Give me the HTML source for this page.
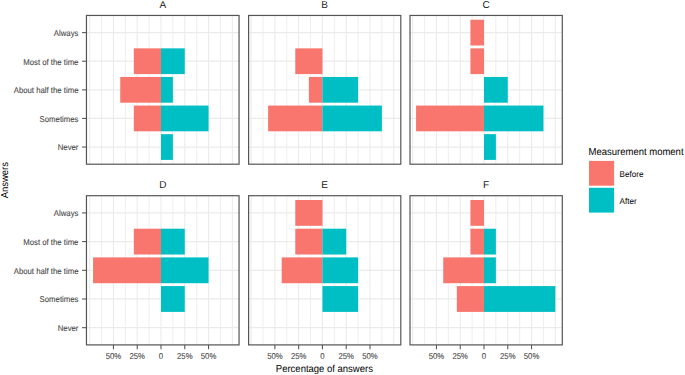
<!DOCTYPE html>
<html><head><meta charset="utf-8"><style>
html,body{margin:0;padding:0;background:#fff;width:685px;height:375px;overflow:hidden}
svg{display:block}
text{font-family:"Liberation Sans",sans-serif;text-rendering:geometricPrecision}
.ax{font-size:8.45px;fill:#4D4D4D;stroke:#4D4D4D;stroke-width:0.12px}
.strip{font-size:10px;fill:#1A1A1A}
.title{font-size:10.1px;fill:#000}
.leg{font-size:8.55px;fill:#000}
</style></head><body>
<svg width="685" height="375" viewBox="0 0 685 375">
<rect width="685" height="375" fill="#fff"/>
<line x1="89.68" y1="15.45" x2="89.68" y2="164.20" stroke="#EBEBEB" stroke-width="1.1"/>
<line x1="101.56" y1="15.45" x2="101.56" y2="164.20" stroke="#EBEBEB" stroke-width="0.85"/>
<line x1="113.45" y1="15.45" x2="113.45" y2="164.20" stroke="#EBEBEB" stroke-width="1.1"/>
<line x1="125.34" y1="15.45" x2="125.34" y2="164.20" stroke="#EBEBEB" stroke-width="0.85"/>
<line x1="137.22" y1="15.45" x2="137.22" y2="164.20" stroke="#EBEBEB" stroke-width="1.1"/>
<line x1="149.11" y1="15.45" x2="149.11" y2="164.20" stroke="#EBEBEB" stroke-width="0.85"/>
<line x1="161.00" y1="15.45" x2="161.00" y2="164.20" stroke="#EBEBEB" stroke-width="1.1"/>
<line x1="172.89" y1="15.45" x2="172.89" y2="164.20" stroke="#EBEBEB" stroke-width="0.85"/>
<line x1="184.78" y1="15.45" x2="184.78" y2="164.20" stroke="#EBEBEB" stroke-width="1.1"/>
<line x1="196.66" y1="15.45" x2="196.66" y2="164.20" stroke="#EBEBEB" stroke-width="0.85"/>
<line x1="208.55" y1="15.45" x2="208.55" y2="164.20" stroke="#EBEBEB" stroke-width="1.1"/>
<line x1="220.44" y1="15.45" x2="220.44" y2="164.20" stroke="#EBEBEB" stroke-width="0.85"/>
<line x1="232.32" y1="15.45" x2="232.32" y2="164.20" stroke="#EBEBEB" stroke-width="1.1"/>
<line x1="86.45" y1="32.61" x2="239.05" y2="32.61" stroke="#EBEBEB" stroke-width="1.25"/>
<line x1="86.45" y1="61.22" x2="239.05" y2="61.22" stroke="#EBEBEB" stroke-width="1.25"/>
<line x1="86.45" y1="89.83" x2="239.05" y2="89.83" stroke="#EBEBEB" stroke-width="1.25"/>
<line x1="86.45" y1="118.43" x2="239.05" y2="118.43" stroke="#EBEBEB" stroke-width="1.25"/>
<line x1="86.45" y1="147.04" x2="239.05" y2="147.04" stroke="#EBEBEB" stroke-width="1.25"/>
<rect x="133.83" y="48.35" width="27.17" height="25.75" fill="#F8766D"/>
<rect x="161.00" y="48.35" width="23.77" height="25.75" fill="#00BFC4"/>
<rect x="120.24" y="76.95" width="40.76" height="25.75" fill="#F8766D"/>
<rect x="161.00" y="76.95" width="11.89" height="25.75" fill="#00BFC4"/>
<rect x="133.83" y="105.56" width="27.17" height="25.75" fill="#F8766D"/>
<rect x="161.00" y="105.56" width="47.55" height="25.75" fill="#00BFC4"/>
<rect x="161.00" y="134.16" width="11.89" height="25.75" fill="#00BFC4"/>
<rect x="86.45" y="15.45" width="152.60" height="148.75" fill="none" stroke="#555555" stroke-width="1.2"/>
<text transform="translate(162.75,8.00) scale(1.0,1)" class="strip" text-anchor="middle">A</text>
<line x1="82.05" y1="32.61" x2="86.45" y2="32.61" stroke="#555555" stroke-width="1.07"/>
<text transform="translate(78.45,36.01) scale(0.92,1)" class="ax" text-anchor="end">Always</text>
<line x1="82.05" y1="61.22" x2="86.45" y2="61.22" stroke="#555555" stroke-width="1.07"/>
<text transform="translate(78.45,64.62) scale(0.92,1)" class="ax" text-anchor="end">Most of the time</text>
<line x1="82.05" y1="89.83" x2="86.45" y2="89.83" stroke="#555555" stroke-width="1.07"/>
<text transform="translate(78.45,93.23) scale(0.92,1)" class="ax" text-anchor="end">About half the time</text>
<line x1="82.05" y1="118.43" x2="86.45" y2="118.43" stroke="#555555" stroke-width="1.07"/>
<text transform="translate(78.45,121.83) scale(0.92,1)" class="ax" text-anchor="end">Sometimes</text>
<line x1="82.05" y1="147.04" x2="86.45" y2="147.04" stroke="#555555" stroke-width="1.07"/>
<text transform="translate(78.45,150.44) scale(0.92,1)" class="ax" text-anchor="end">Never</text>
<line x1="251.12" y1="15.45" x2="251.12" y2="164.20" stroke="#EBEBEB" stroke-width="1.1"/>
<line x1="263.01" y1="15.45" x2="263.01" y2="164.20" stroke="#EBEBEB" stroke-width="0.85"/>
<line x1="274.90" y1="15.45" x2="274.90" y2="164.20" stroke="#EBEBEB" stroke-width="1.1"/>
<line x1="286.79" y1="15.45" x2="286.79" y2="164.20" stroke="#EBEBEB" stroke-width="0.85"/>
<line x1="298.68" y1="15.45" x2="298.68" y2="164.20" stroke="#EBEBEB" stroke-width="1.1"/>
<line x1="310.56" y1="15.45" x2="310.56" y2="164.20" stroke="#EBEBEB" stroke-width="0.85"/>
<line x1="322.45" y1="15.45" x2="322.45" y2="164.20" stroke="#EBEBEB" stroke-width="1.1"/>
<line x1="334.34" y1="15.45" x2="334.34" y2="164.20" stroke="#EBEBEB" stroke-width="0.85"/>
<line x1="346.22" y1="15.45" x2="346.22" y2="164.20" stroke="#EBEBEB" stroke-width="1.1"/>
<line x1="358.11" y1="15.45" x2="358.11" y2="164.20" stroke="#EBEBEB" stroke-width="0.85"/>
<line x1="370.00" y1="15.45" x2="370.00" y2="164.20" stroke="#EBEBEB" stroke-width="1.1"/>
<line x1="381.89" y1="15.45" x2="381.89" y2="164.20" stroke="#EBEBEB" stroke-width="0.85"/>
<line x1="393.77" y1="15.45" x2="393.77" y2="164.20" stroke="#EBEBEB" stroke-width="1.1"/>
<line x1="248.60" y1="32.61" x2="400.80" y2="32.61" stroke="#EBEBEB" stroke-width="1.25"/>
<line x1="248.60" y1="61.22" x2="400.80" y2="61.22" stroke="#EBEBEB" stroke-width="1.25"/>
<line x1="248.60" y1="89.83" x2="400.80" y2="89.83" stroke="#EBEBEB" stroke-width="1.25"/>
<line x1="248.60" y1="118.43" x2="400.80" y2="118.43" stroke="#EBEBEB" stroke-width="1.25"/>
<line x1="248.60" y1="147.04" x2="400.80" y2="147.04" stroke="#EBEBEB" stroke-width="1.25"/>
<rect x="295.28" y="48.35" width="27.17" height="25.75" fill="#F8766D"/>
<rect x="308.86" y="76.95" width="13.59" height="25.75" fill="#F8766D"/>
<rect x="322.45" y="76.95" width="35.66" height="25.75" fill="#00BFC4"/>
<rect x="268.11" y="105.56" width="54.34" height="25.75" fill="#F8766D"/>
<rect x="322.45" y="105.56" width="59.44" height="25.75" fill="#00BFC4"/>
<rect x="248.60" y="15.45" width="152.20" height="148.75" fill="none" stroke="#555555" stroke-width="1.2"/>
<text transform="translate(324.70,8.00) scale(1.0,1)" class="strip" text-anchor="middle">B</text>
<line x1="412.68" y1="15.45" x2="412.68" y2="164.20" stroke="#EBEBEB" stroke-width="1.1"/>
<line x1="424.56" y1="15.45" x2="424.56" y2="164.20" stroke="#EBEBEB" stroke-width="0.85"/>
<line x1="436.45" y1="15.45" x2="436.45" y2="164.20" stroke="#EBEBEB" stroke-width="1.1"/>
<line x1="448.34" y1="15.45" x2="448.34" y2="164.20" stroke="#EBEBEB" stroke-width="0.85"/>
<line x1="460.23" y1="15.45" x2="460.23" y2="164.20" stroke="#EBEBEB" stroke-width="1.1"/>
<line x1="472.11" y1="15.45" x2="472.11" y2="164.20" stroke="#EBEBEB" stroke-width="0.85"/>
<line x1="484.00" y1="15.45" x2="484.00" y2="164.20" stroke="#EBEBEB" stroke-width="1.1"/>
<line x1="495.89" y1="15.45" x2="495.89" y2="164.20" stroke="#EBEBEB" stroke-width="0.85"/>
<line x1="507.77" y1="15.45" x2="507.77" y2="164.20" stroke="#EBEBEB" stroke-width="1.1"/>
<line x1="519.66" y1="15.45" x2="519.66" y2="164.20" stroke="#EBEBEB" stroke-width="0.85"/>
<line x1="531.55" y1="15.45" x2="531.55" y2="164.20" stroke="#EBEBEB" stroke-width="1.1"/>
<line x1="543.44" y1="15.45" x2="543.44" y2="164.20" stroke="#EBEBEB" stroke-width="0.85"/>
<line x1="555.33" y1="15.45" x2="555.33" y2="164.20" stroke="#EBEBEB" stroke-width="1.1"/>
<line x1="410.00" y1="32.61" x2="562.30" y2="32.61" stroke="#EBEBEB" stroke-width="1.25"/>
<line x1="410.00" y1="61.22" x2="562.30" y2="61.22" stroke="#EBEBEB" stroke-width="1.25"/>
<line x1="410.00" y1="89.83" x2="562.30" y2="89.83" stroke="#EBEBEB" stroke-width="1.25"/>
<line x1="410.00" y1="118.43" x2="562.30" y2="118.43" stroke="#EBEBEB" stroke-width="1.25"/>
<line x1="410.00" y1="147.04" x2="562.30" y2="147.04" stroke="#EBEBEB" stroke-width="1.25"/>
<rect x="470.41" y="19.74" width="13.59" height="25.75" fill="#F8766D"/>
<rect x="470.41" y="48.35" width="13.59" height="25.75" fill="#F8766D"/>
<rect x="484.00" y="76.95" width="23.77" height="25.75" fill="#00BFC4"/>
<rect x="416.07" y="105.56" width="67.93" height="25.75" fill="#F8766D"/>
<rect x="484.00" y="105.56" width="59.44" height="25.75" fill="#00BFC4"/>
<rect x="484.00" y="134.16" width="11.89" height="25.75" fill="#00BFC4"/>
<rect x="410.00" y="15.45" width="152.30" height="148.75" fill="none" stroke="#555555" stroke-width="1.2"/>
<text transform="translate(486.15,8.00) scale(1.0,1)" class="strip" text-anchor="middle">C</text>
<line x1="89.68" y1="195.70" x2="89.68" y2="344.90" stroke="#EBEBEB" stroke-width="1.1"/>
<line x1="101.56" y1="195.70" x2="101.56" y2="344.90" stroke="#EBEBEB" stroke-width="0.85"/>
<line x1="113.45" y1="195.70" x2="113.45" y2="344.90" stroke="#EBEBEB" stroke-width="1.1"/>
<line x1="125.34" y1="195.70" x2="125.34" y2="344.90" stroke="#EBEBEB" stroke-width="0.85"/>
<line x1="137.22" y1="195.70" x2="137.22" y2="344.90" stroke="#EBEBEB" stroke-width="1.1"/>
<line x1="149.11" y1="195.70" x2="149.11" y2="344.90" stroke="#EBEBEB" stroke-width="0.85"/>
<line x1="161.00" y1="195.70" x2="161.00" y2="344.90" stroke="#EBEBEB" stroke-width="1.1"/>
<line x1="172.89" y1="195.70" x2="172.89" y2="344.90" stroke="#EBEBEB" stroke-width="0.85"/>
<line x1="184.78" y1="195.70" x2="184.78" y2="344.90" stroke="#EBEBEB" stroke-width="1.1"/>
<line x1="196.66" y1="195.70" x2="196.66" y2="344.90" stroke="#EBEBEB" stroke-width="0.85"/>
<line x1="208.55" y1="195.70" x2="208.55" y2="344.90" stroke="#EBEBEB" stroke-width="1.1"/>
<line x1="220.44" y1="195.70" x2="220.44" y2="344.90" stroke="#EBEBEB" stroke-width="0.85"/>
<line x1="232.32" y1="195.70" x2="232.32" y2="344.90" stroke="#EBEBEB" stroke-width="1.1"/>
<line x1="86.45" y1="212.92" x2="239.05" y2="212.92" stroke="#EBEBEB" stroke-width="1.25"/>
<line x1="86.45" y1="241.61" x2="239.05" y2="241.61" stroke="#EBEBEB" stroke-width="1.25"/>
<line x1="86.45" y1="270.30" x2="239.05" y2="270.30" stroke="#EBEBEB" stroke-width="1.25"/>
<line x1="86.45" y1="298.99" x2="239.05" y2="298.99" stroke="#EBEBEB" stroke-width="1.25"/>
<line x1="86.45" y1="327.68" x2="239.05" y2="327.68" stroke="#EBEBEB" stroke-width="1.25"/>
<rect x="133.83" y="228.70" width="27.17" height="25.82" fill="#F8766D"/>
<rect x="161.00" y="228.70" width="23.77" height="25.82" fill="#00BFC4"/>
<rect x="93.07" y="257.39" width="67.93" height="25.82" fill="#F8766D"/>
<rect x="161.00" y="257.39" width="47.55" height="25.82" fill="#00BFC4"/>
<rect x="161.00" y="286.08" width="23.77" height="25.82" fill="#00BFC4"/>
<rect x="86.45" y="195.70" width="152.60" height="149.20" fill="none" stroke="#555555" stroke-width="1.2"/>
<text transform="translate(162.75,188.20) scale(1.0,1)" class="strip" text-anchor="middle">D</text>
<line x1="82.05" y1="212.92" x2="86.45" y2="212.92" stroke="#555555" stroke-width="1.07"/>
<text transform="translate(78.45,216.32) scale(0.92,1)" class="ax" text-anchor="end">Always</text>
<line x1="82.05" y1="241.61" x2="86.45" y2="241.61" stroke="#555555" stroke-width="1.07"/>
<text transform="translate(78.45,245.01) scale(0.92,1)" class="ax" text-anchor="end">Most of the time</text>
<line x1="82.05" y1="270.30" x2="86.45" y2="270.30" stroke="#555555" stroke-width="1.07"/>
<text transform="translate(78.45,273.70) scale(0.92,1)" class="ax" text-anchor="end">About half the time</text>
<line x1="82.05" y1="298.99" x2="86.45" y2="298.99" stroke="#555555" stroke-width="1.07"/>
<text transform="translate(78.45,302.39) scale(0.92,1)" class="ax" text-anchor="end">Sometimes</text>
<line x1="82.05" y1="327.68" x2="86.45" y2="327.68" stroke="#555555" stroke-width="1.07"/>
<text transform="translate(78.45,331.08) scale(0.92,1)" class="ax" text-anchor="end">Never</text>
<line x1="113.45" y1="344.90" x2="113.45" y2="349.30" stroke="#555555" stroke-width="1.07"/>
<text transform="translate(113.45,359.00) scale(0.92,1)" class="ax" text-anchor="middle">50%</text>
<line x1="137.22" y1="344.90" x2="137.22" y2="349.30" stroke="#555555" stroke-width="1.07"/>
<text transform="translate(137.22,359.00) scale(0.92,1)" class="ax" text-anchor="middle">25%</text>
<line x1="161.00" y1="344.90" x2="161.00" y2="349.30" stroke="#555555" stroke-width="1.07"/>
<text transform="translate(161.00,359.00) scale(0.92,1)" class="ax" text-anchor="middle">0</text>
<line x1="184.78" y1="344.90" x2="184.78" y2="349.30" stroke="#555555" stroke-width="1.07"/>
<text transform="translate(184.78,359.00) scale(0.92,1)" class="ax" text-anchor="middle">25%</text>
<line x1="208.55" y1="344.90" x2="208.55" y2="349.30" stroke="#555555" stroke-width="1.07"/>
<text transform="translate(208.55,359.00) scale(0.92,1)" class="ax" text-anchor="middle">50%</text>
<line x1="251.12" y1="195.70" x2="251.12" y2="344.90" stroke="#EBEBEB" stroke-width="1.1"/>
<line x1="263.01" y1="195.70" x2="263.01" y2="344.90" stroke="#EBEBEB" stroke-width="0.85"/>
<line x1="274.90" y1="195.70" x2="274.90" y2="344.90" stroke="#EBEBEB" stroke-width="1.1"/>
<line x1="286.79" y1="195.70" x2="286.79" y2="344.90" stroke="#EBEBEB" stroke-width="0.85"/>
<line x1="298.68" y1="195.70" x2="298.68" y2="344.90" stroke="#EBEBEB" stroke-width="1.1"/>
<line x1="310.56" y1="195.70" x2="310.56" y2="344.90" stroke="#EBEBEB" stroke-width="0.85"/>
<line x1="322.45" y1="195.70" x2="322.45" y2="344.90" stroke="#EBEBEB" stroke-width="1.1"/>
<line x1="334.34" y1="195.70" x2="334.34" y2="344.90" stroke="#EBEBEB" stroke-width="0.85"/>
<line x1="346.22" y1="195.70" x2="346.22" y2="344.90" stroke="#EBEBEB" stroke-width="1.1"/>
<line x1="358.11" y1="195.70" x2="358.11" y2="344.90" stroke="#EBEBEB" stroke-width="0.85"/>
<line x1="370.00" y1="195.70" x2="370.00" y2="344.90" stroke="#EBEBEB" stroke-width="1.1"/>
<line x1="381.89" y1="195.70" x2="381.89" y2="344.90" stroke="#EBEBEB" stroke-width="0.85"/>
<line x1="393.77" y1="195.70" x2="393.77" y2="344.90" stroke="#EBEBEB" stroke-width="1.1"/>
<line x1="248.60" y1="212.92" x2="400.80" y2="212.92" stroke="#EBEBEB" stroke-width="1.25"/>
<line x1="248.60" y1="241.61" x2="400.80" y2="241.61" stroke="#EBEBEB" stroke-width="1.25"/>
<line x1="248.60" y1="270.30" x2="400.80" y2="270.30" stroke="#EBEBEB" stroke-width="1.25"/>
<line x1="248.60" y1="298.99" x2="400.80" y2="298.99" stroke="#EBEBEB" stroke-width="1.25"/>
<line x1="248.60" y1="327.68" x2="400.80" y2="327.68" stroke="#EBEBEB" stroke-width="1.25"/>
<rect x="295.28" y="200.00" width="27.17" height="25.82" fill="#F8766D"/>
<rect x="295.28" y="228.70" width="27.17" height="25.82" fill="#F8766D"/>
<rect x="322.45" y="228.70" width="23.77" height="25.82" fill="#00BFC4"/>
<rect x="281.69" y="257.39" width="40.76" height="25.82" fill="#F8766D"/>
<rect x="322.45" y="257.39" width="35.66" height="25.82" fill="#00BFC4"/>
<rect x="322.45" y="286.08" width="35.66" height="25.82" fill="#00BFC4"/>
<rect x="248.60" y="195.70" width="152.20" height="149.20" fill="none" stroke="#555555" stroke-width="1.2"/>
<text transform="translate(324.70,188.20) scale(1.0,1)" class="strip" text-anchor="middle">E</text>
<line x1="274.90" y1="344.90" x2="274.90" y2="349.30" stroke="#555555" stroke-width="1.07"/>
<text transform="translate(274.90,359.00) scale(0.92,1)" class="ax" text-anchor="middle">50%</text>
<line x1="298.68" y1="344.90" x2="298.68" y2="349.30" stroke="#555555" stroke-width="1.07"/>
<text transform="translate(298.68,359.00) scale(0.92,1)" class="ax" text-anchor="middle">25%</text>
<line x1="322.45" y1="344.90" x2="322.45" y2="349.30" stroke="#555555" stroke-width="1.07"/>
<text transform="translate(322.45,359.00) scale(0.92,1)" class="ax" text-anchor="middle">0</text>
<line x1="346.22" y1="344.90" x2="346.22" y2="349.30" stroke="#555555" stroke-width="1.07"/>
<text transform="translate(346.22,359.00) scale(0.92,1)" class="ax" text-anchor="middle">25%</text>
<line x1="370.00" y1="344.90" x2="370.00" y2="349.30" stroke="#555555" stroke-width="1.07"/>
<text transform="translate(370.00,359.00) scale(0.92,1)" class="ax" text-anchor="middle">50%</text>
<line x1="412.68" y1="195.70" x2="412.68" y2="344.90" stroke="#EBEBEB" stroke-width="1.1"/>
<line x1="424.56" y1="195.70" x2="424.56" y2="344.90" stroke="#EBEBEB" stroke-width="0.85"/>
<line x1="436.45" y1="195.70" x2="436.45" y2="344.90" stroke="#EBEBEB" stroke-width="1.1"/>
<line x1="448.34" y1="195.70" x2="448.34" y2="344.90" stroke="#EBEBEB" stroke-width="0.85"/>
<line x1="460.23" y1="195.70" x2="460.23" y2="344.90" stroke="#EBEBEB" stroke-width="1.1"/>
<line x1="472.11" y1="195.70" x2="472.11" y2="344.90" stroke="#EBEBEB" stroke-width="0.85"/>
<line x1="484.00" y1="195.70" x2="484.00" y2="344.90" stroke="#EBEBEB" stroke-width="1.1"/>
<line x1="495.89" y1="195.70" x2="495.89" y2="344.90" stroke="#EBEBEB" stroke-width="0.85"/>
<line x1="507.77" y1="195.70" x2="507.77" y2="344.90" stroke="#EBEBEB" stroke-width="1.1"/>
<line x1="519.66" y1="195.70" x2="519.66" y2="344.90" stroke="#EBEBEB" stroke-width="0.85"/>
<line x1="531.55" y1="195.70" x2="531.55" y2="344.90" stroke="#EBEBEB" stroke-width="1.1"/>
<line x1="543.44" y1="195.70" x2="543.44" y2="344.90" stroke="#EBEBEB" stroke-width="0.85"/>
<line x1="555.33" y1="195.70" x2="555.33" y2="344.90" stroke="#EBEBEB" stroke-width="1.1"/>
<line x1="410.00" y1="212.92" x2="562.30" y2="212.92" stroke="#EBEBEB" stroke-width="1.25"/>
<line x1="410.00" y1="241.61" x2="562.30" y2="241.61" stroke="#EBEBEB" stroke-width="1.25"/>
<line x1="410.00" y1="270.30" x2="562.30" y2="270.30" stroke="#EBEBEB" stroke-width="1.25"/>
<line x1="410.00" y1="298.99" x2="562.30" y2="298.99" stroke="#EBEBEB" stroke-width="1.25"/>
<line x1="410.00" y1="327.68" x2="562.30" y2="327.68" stroke="#EBEBEB" stroke-width="1.25"/>
<rect x="470.41" y="200.00" width="13.59" height="25.82" fill="#F8766D"/>
<rect x="470.41" y="228.70" width="13.59" height="25.82" fill="#F8766D"/>
<rect x="484.00" y="228.70" width="11.89" height="25.82" fill="#00BFC4"/>
<rect x="443.24" y="257.39" width="40.76" height="25.82" fill="#F8766D"/>
<rect x="484.00" y="257.39" width="11.89" height="25.82" fill="#00BFC4"/>
<rect x="456.83" y="286.08" width="27.17" height="25.82" fill="#F8766D"/>
<rect x="484.00" y="286.08" width="71.32" height="25.82" fill="#00BFC4"/>
<rect x="410.00" y="195.70" width="152.30" height="149.20" fill="none" stroke="#555555" stroke-width="1.2"/>
<text transform="translate(486.15,188.20) scale(1.0,1)" class="strip" text-anchor="middle">F</text>
<line x1="436.45" y1="344.90" x2="436.45" y2="349.30" stroke="#555555" stroke-width="1.07"/>
<text transform="translate(436.45,359.00) scale(0.92,1)" class="ax" text-anchor="middle">50%</text>
<line x1="460.23" y1="344.90" x2="460.23" y2="349.30" stroke="#555555" stroke-width="1.07"/>
<text transform="translate(460.23,359.00) scale(0.92,1)" class="ax" text-anchor="middle">25%</text>
<line x1="484.00" y1="344.90" x2="484.00" y2="349.30" stroke="#555555" stroke-width="1.07"/>
<text transform="translate(484.00,359.00) scale(0.92,1)" class="ax" text-anchor="middle">0</text>
<line x1="507.77" y1="344.90" x2="507.77" y2="349.30" stroke="#555555" stroke-width="1.07"/>
<text transform="translate(507.77,359.00) scale(0.92,1)" class="ax" text-anchor="middle">25%</text>
<line x1="531.55" y1="344.90" x2="531.55" y2="349.30" stroke="#555555" stroke-width="1.07"/>
<text transform="translate(531.55,359.00) scale(0.92,1)" class="ax" text-anchor="middle">50%</text>
<text transform="translate(324.38,372.00) scale(0.94,1)" class="title" text-anchor="middle">Percentage of answers</text>
<text transform="translate(7.60,180.17) rotate(-90) scale(0.94,1)" class="title" text-anchor="middle">Answers</text>
<text transform="translate(588.60,154.70) scale(0.94,1)" class="title">Measurement moment</text>
<rect x="589" y="160.9" width="25.1" height="24.8" fill="#F8766D"/>
<rect x="589" y="187.8" width="25.1" height="24.8" fill="#00BFC4"/>
<text transform="translate(619.60,176.90) scale(0.95,1)" class="leg">Before</text>
<text transform="translate(619.60,203.80) scale(0.95,1)" class="leg">After</text>
</svg>
</body></html>
